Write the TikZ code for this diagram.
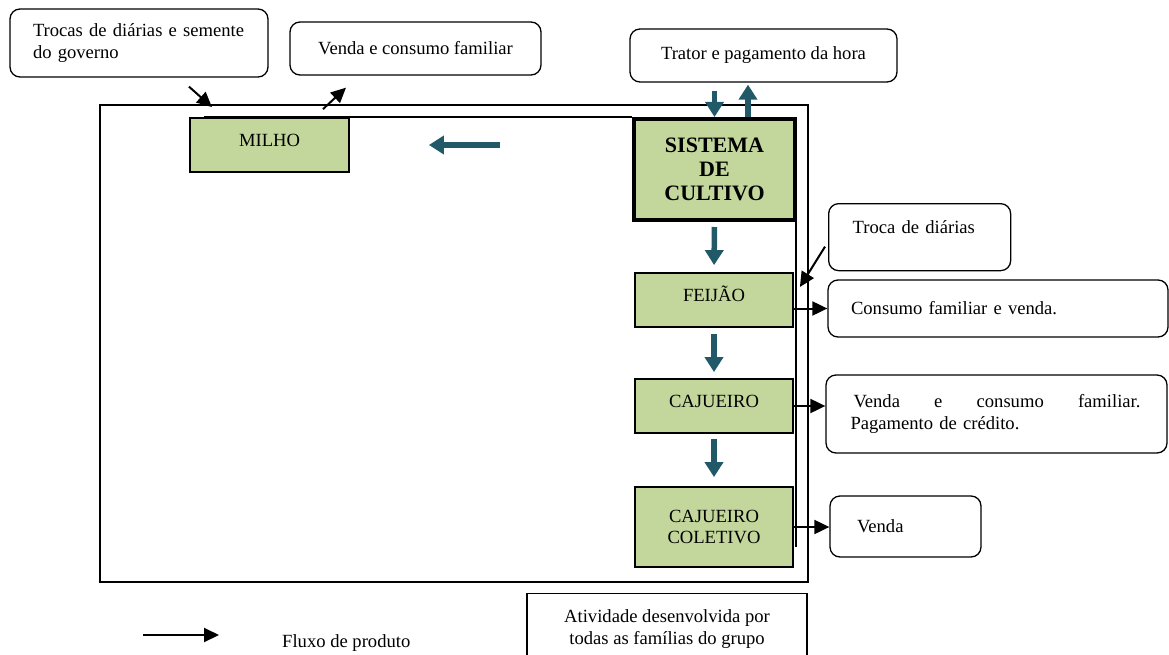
\documentclass[tikz,border=0pt]{standalone}
\usepackage{fontspec}
\setmainfont{Liberation Serif}
\usetikzlibrary{arrows.meta}
\definecolor{cropgreen}{HTML}{C3D69B}
\definecolor{flowteal}{HTML}{215968}

\begin{document}
\begin{tikzpicture}[x=1pt,y=-1pt,
  every node/.style={font=\fontsize{18.6}{21.5}\selectfont},
  callout/.style={draw, line width=1.3pt, rounded corners=10pt, inner sep=0pt},
  crop/.style={draw, line width=1.8pt, fill=cropgreen, inner sep=0pt, align=center},
  oneline/.style={text height=13pt, text depth=10pt},
  flow/.style={draw=flowteal, line width=5.5pt, -{Triangle[width=18pt,length=15pt]}},
  product/.style={line width=2pt, -{Triangle[width=14pt,length=15pt]}},
]
\useasboundingbox (0,0) rectangle (1169,655);

% frame of the whole production system
\node[draw, line width=1.6pt, minimum width=708pt, minimum height=477pt, inner sep=0pt] (grupo) at (454,343.5) {};

% crops
\node[crop, oneline, minimum width=159pt, minimum height=54pt] (milho) at (269.5,145) {MILHO};
\node[crop, line width=4pt, minimum width=161pt, minimum height=101pt,
      font=\bfseries\fontsize{22}{24}\selectfont] (sistema) at (714.5,169.5) {SISTEMA\\DE\\CULTIVO};
\node[crop, oneline, minimum width=158pt, minimum height=54pt] (feijao) at (714,300) {FEIJÃO};
\node[crop, oneline, minimum width=158pt, minimum height=54pt] (cajueiro) at (714,406) {CAJUEIRO};
\node[crop, minimum width=158pt, minimum height=80pt] (coletivo) at (714,527) {CAJUEIRO\\COLETIVO};

% outer partial frame of the cultivation system
\coordinate (innerend) at (796,547);
\draw[line width=1.3pt] (milho.north west) ++(15,0) -- (sistema.west |- milho.north);
\draw[line width=1.3pt] (innerend |- sistema.south east) -- (innerend);

% inputs and destinations
\node[callout, minimum width=258pt, minimum height=68pt, text width=212pt, align=left] (trocas) at (139,43)
  {Trocas de diárias e semente\\do governo};
\node[callout, minimum width=251pt, minimum height=53pt] (venda) at (415.5,48.5) {Venda e consumo familiar};
\node[callout, minimum width=267pt, minimum height=53pt] (trator) at (763.5,55.5) {Trator e pagamento da hora};
\node[callout, anchor=north west, inner xsep=24pt, text width=134pt, align=left,
      text height=30pt, text depth=37pt] (troca) at (828,203) {Troca de diárias};
\node[callout, minimum width=340pt, minimum height=57pt, text width=294pt, align=left] (consumo) at (998,308.5)
  {Consumo familiar e venda.};
\node[callout, minimum width=341pt, minimum height=78pt, text width=292pt, align=left] (vendacred) at (996.5,414)
  {\makebox[290pt]{\hspace{3pt}Venda\hfill e\hfill consumo\hfill familiar.}\\Pagamento de crédito.};
\node[callout, minimum width=151pt, minimum height=61pt, text width=97pt, align=left] (vendag) at (905.5,526.5) {Venda};

% legend box
\node[draw, line width=1.3pt, minimum width=280pt, minimum height=90pt, inner sep=0pt, anchor=north] (atividade) at (667,593) {};
\node[align=center, inner sep=0pt] (atividadetxt) at (667,629) {Atividade desenvolvida por\\todas as famílias do grupo};

% flows inside the system
\draw[flow] ([yshift=-8pt] trator.south -| sistema.north) -- (sistema.north);
\draw[flow] ([xshift=33.5pt] sistema.north) -- ([xshift=33.5pt,yshift=-2pt] sistema.north |- trator.south);
\draw[flow, shorten <=132pt, shorten >=79pt] (sistema.west |- milho.east) -- (milho.east);
\draw[flow, shorten <=5pt, shorten >=7pt] (sistema.south) -- (feijao.north);
\draw[flow, shorten <=6pt, shorten >=6pt] (feijao.south) -- (cajueiro.north);
\draw[flow, shorten <=5pt, shorten >=9pt] (cajueiro.south) -- (coletivo.north);

% product flows
\draw[product] ([xshift=50pt,yshift=-9pt] trocas.south) -- ([xshift=-57.5pt,yshift=10pt] milho.north);
\draw[product] ([xshift=53.5pt,yshift=8pt] milho.north) -- ([xshift=-69.5pt,yshift=-12pt] venda.south);
\draw[product] ([xshift=-3pt,yshift=-9.5pt] troca.west) -- ([xshift=6pt,yshift=13pt] feijao.east);
\draw[product] (feijao.east |- consumo.west) -- (consumo.west);
\draw[product] (cajueiro.east) -- (cajueiro.east -| vendacred.west);
\draw[product] (coletivo.east) -- (coletivo.east -| vendag.west);

% legend
\coordinate (legA) at (143,635);
\coordinate (legB) at (219,635);
\draw[product] (legA) -- (legB);
\node[anchor=base west, inner sep=0pt] (legtext) at (282,647) {Fluxo de produto};
\end{tikzpicture}
\end{document}
